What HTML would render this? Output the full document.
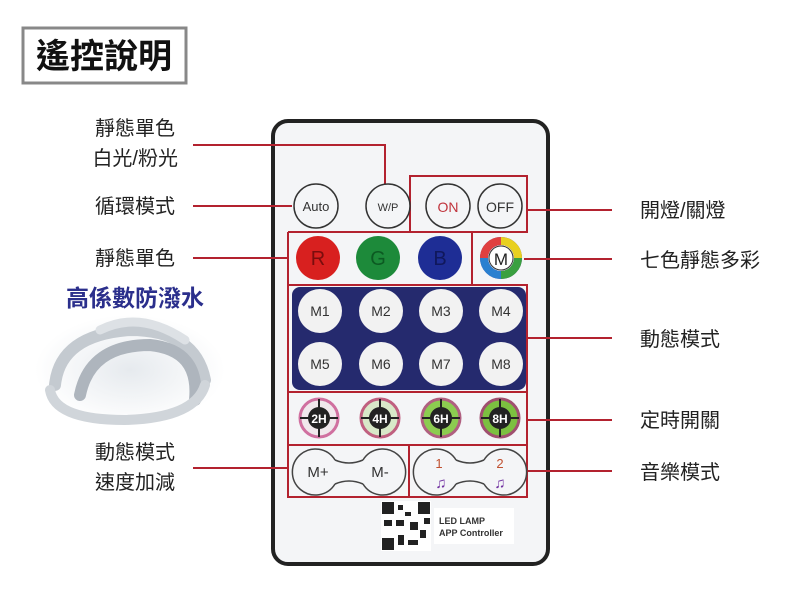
<!DOCTYPE html>
<html><head><meta charset="utf-8"><style>
body{margin:0;width:800px;height:600px;background:#fff;overflow:hidden;font-family:"Liberation Sans","Noto Sans CJK TC",sans-serif}
</style></head><body>
<svg width="800" height="600" xmlns="http://www.w3.org/2000/svg" font-family="Liberation Sans, Noto Sans CJK TC, sans-serif">
<defs>
<radialGradient id="tube" cx="50%" cy="50%" r="50%"><stop offset="0" stop-color="#e6eaee"/><stop offset="1" stop-color="#fff"/></radialGradient>
</defs>
<rect x="23" y="28" width="163" height="55" fill="#fff" stroke="#888" stroke-width="3"/>
<text x="104" y="68" font-size="34" font-weight="bold" text-anchor="middle" fill="#111">遙控說明</text>
<g font-size="20" fill="#222" text-anchor="end">
<text x="175" y="135">靜態單色</text>
<text x="178" y="165">白光/粉光</text>
<text x="175" y="213">循環模式</text>
<text x="175" y="265">靜態單色</text>
<text x="175" y="459">動態模式</text>
<text x="175" y="489">速度加減</text>
</g>
<text x="135" y="306" font-size="23" font-weight="bold" fill="#2b2f8c" text-anchor="middle">高係數防潑水</text>
<g fill="none" stroke-linecap="round">
<ellipse cx="130" cy="370" rx="95" ry="55" fill="url(#tube)" stroke="none"/>
<path d="M55 385 Q60 335 130 330 Q195 330 205 380" stroke="#c4cad0" stroke-width="12"/>
<path d="M80 395 Q90 345 150 345 Q200 350 195 400" stroke="#aeb5bd" stroke-width="12"/>
<path d="M50 390 Q55 420 125 420 Q195 418 205 385" stroke="#d0d5da" stroke-width="10"/>
<path d="M100 330 Q140 310 185 340" stroke="#dde1e5" stroke-width="9"/>
</g>
<rect x="273" y="121" width="275" height="443" rx="15" fill="#f4f5f7" stroke="#222" stroke-width="4"/>
<g stroke="#b3222f" stroke-width="2" fill="none">
<path d="M193 145 H385 V190"/>
<path d="M193 206 H292"/>
<path d="M193 258 H288"/>
<path d="M193 468 H288"/>
<path d="M527 210 H612"/>
<path d="M524 259 H612"/>
<path d="M527 338 H612"/>
<path d="M527 420 H612"/>
<path d="M527 471 H612"/>
<rect x="410" y="176" width="117" height="56"/>
<path d="M288 232 H410 M472 232 V285 M472 285 H527 V392 M288 232 V497 H527 V392 H288 M288 285 H472 M288 445 H527 M409 445 V497"/>
</g>
<g font-size="20" fill="#222">
<text x="640" y="217">開燈/關燈</text>
<text x="640" y="267">七色靜態多彩</text>
<text x="640" y="346">動態模式</text>
<text x="640" y="427">定時開關</text>
<text x="640" y="479">音樂模式</text>
</g>
<g fill="#f4f5f7" stroke="#333" stroke-width="1.5">
<circle cx="316" cy="206" r="22"/><circle cx="388" cy="206" r="22"/><circle cx="448" cy="206" r="22"/><circle cx="500" cy="206" r="22"/>
</g>
<g font-size="13" text-anchor="middle" fill="#333">
<text x="316" y="211">Auto</text><text x="388" y="211" font-size="11">W/P</text>
<text x="448" y="212" fill="#c0333c" font-size="14">ON</text><text x="500" y="212" font-size="14">OFF</text>
</g>
<circle cx="318" cy="258" r="22" fill="#d8201f"/><circle cx="378" cy="258" r="22" fill="#1d8a3a"/><circle cx="440" cy="258" r="22" fill="#1e2d95"/>
<g font-size="20" text-anchor="middle"><text x="318" y="265" fill="#7a0d0d">R</text><text x="378" y="265" fill="#0c5a22">G</text><text x="440" y="265" fill="#10185c">B</text></g>
<g stroke-width="8" fill="none">
<circle cx="501" cy="258" r="17" stroke="#4a2a8a"/>
<path d="M501 241 A17 17 0 0 1 518 258" stroke="#e8d020"/>
<path d="M518 258 A17 17 0 0 1 501 275" stroke="#3aa040"/>
<path d="M501 275 A17 17 0 0 1 484 258" stroke="#2a80d0"/>
<path d="M484 258 A17 17 0 0 1 501 241" stroke="#e04040"/>
</g>
<circle cx="501" cy="258" r="12" fill="#fff" stroke="#333"/>
<text x="501" y="265" font-size="17" text-anchor="middle" fill="#222">M</text>
<rect x="292" y="287" width="234" height="103" rx="8" fill="#252a6e"/>
<g fill="#f2f2f2"><circle cx="320" cy="311" r="22"/><circle cx="381" cy="311" r="22"/><circle cx="441" cy="311" r="22"/><circle cx="501" cy="311" r="22"/>
<circle cx="320" cy="364" r="22"/><circle cx="381" cy="364" r="22"/><circle cx="441" cy="364" r="22"/><circle cx="501" cy="364" r="22"/></g>
<g font-size="14" text-anchor="middle" fill="#333">
<text x="320" y="316">M1</text><text x="381" y="316">M2</text><text x="441" y="316">M3</text><text x="501" y="316">M4</text>
<text x="320" y="369">M5</text><text x="381" y="369">M6</text><text x="441" y="369">M7</text><text x="501" y="369">M8</text>
</g>
<g>
<circle cx="319" cy="418" r="19" fill="#f0e8ec" stroke="#d070a0" stroke-width="3"/>
<circle cx="380" cy="418" r="19" fill="#d8e8c8" stroke="#c06080" stroke-width="3"/>
<circle cx="441" cy="418" r="19" fill="#8ccc50" stroke="#b06080" stroke-width="3"/>
<circle cx="500" cy="418" r="19" fill="#7cc040" stroke="#a05070" stroke-width="3"/>
<g fill="#222"><circle cx="319" cy="418" r="11"/><circle cx="380" cy="418" r="11"/><circle cx="441" cy="418" r="11"/><circle cx="500" cy="418" r="11"/></g>
<g stroke="#222" stroke-width="2"><path d="M300 418h38M319 399v38M361 418h38M380 399v38M422 418h38M441 399v38M481 418h38M500 399v38"/></g>
<g fill="#fff" font-size="12" text-anchor="middle" font-weight="bold"><text x="319" y="423">2H</text><text x="380" y="423">4H</text><text x="441" y="423">6H</text><text x="500" y="423">8H</text></g>
</g>
<g fill="none" stroke="#444" stroke-width="1.5">
<path d="M335 460 A23 23 0 1 0 335 484 M335 460 Q349 466 363 460 M335 484 Q349 478 363 484 M363 460 A23 23 0 1 1 363 484"/>
<path d="M456 460 A23 23 0 1 0 456 484 M456 460 Q470 466 484 460 M456 484 Q470 478 484 484 M484 460 A23 23 0 1 1 484 484"/>
</g>
<g font-size="15" fill="#333" text-anchor="middle"><text x="318" y="477">M+</text><text x="380" y="477">M-</text>
<text x="439" y="468" fill="#c05030" font-size="13">1</text><text x="500" y="468" fill="#c05030" font-size="13">2</text>
<text x="441" y="488" fill="#7030a0" font-size="15">♫</text><text x="500" y="488" fill="#7030a0" font-size="15">♫</text></g>
<rect x="381" y="501" width="50" height="50" fill="#fff"/>
<g fill="#222"><rect x="382" y="502" width="12" height="12"/><rect x="418" y="502" width="12" height="12"/><rect x="382" y="538" width="12" height="12"/>
<rect x="398" y="505" width="5" height="5"/><rect x="405" y="512" width="6" height="4"/><rect x="396" y="520" width="8" height="6"/><rect x="410" y="522" width="8" height="8"/><rect x="420" y="530" width="6" height="8"/><rect x="398" y="535" width="6" height="10"/><rect x="408" y="540" width="10" height="5"/><rect x="384" y="520" width="8" height="6"/><rect x="424" y="518" width="6" height="6"/></g>
<rect x="434" y="508" width="80" height="36" fill="#fff"/>
<g font-size="9" font-weight="bold" fill="#333"><text x="439" y="524">LED LAMP</text><text x="439" y="536">APP Controller</text></g>
</svg>
</body></html>
